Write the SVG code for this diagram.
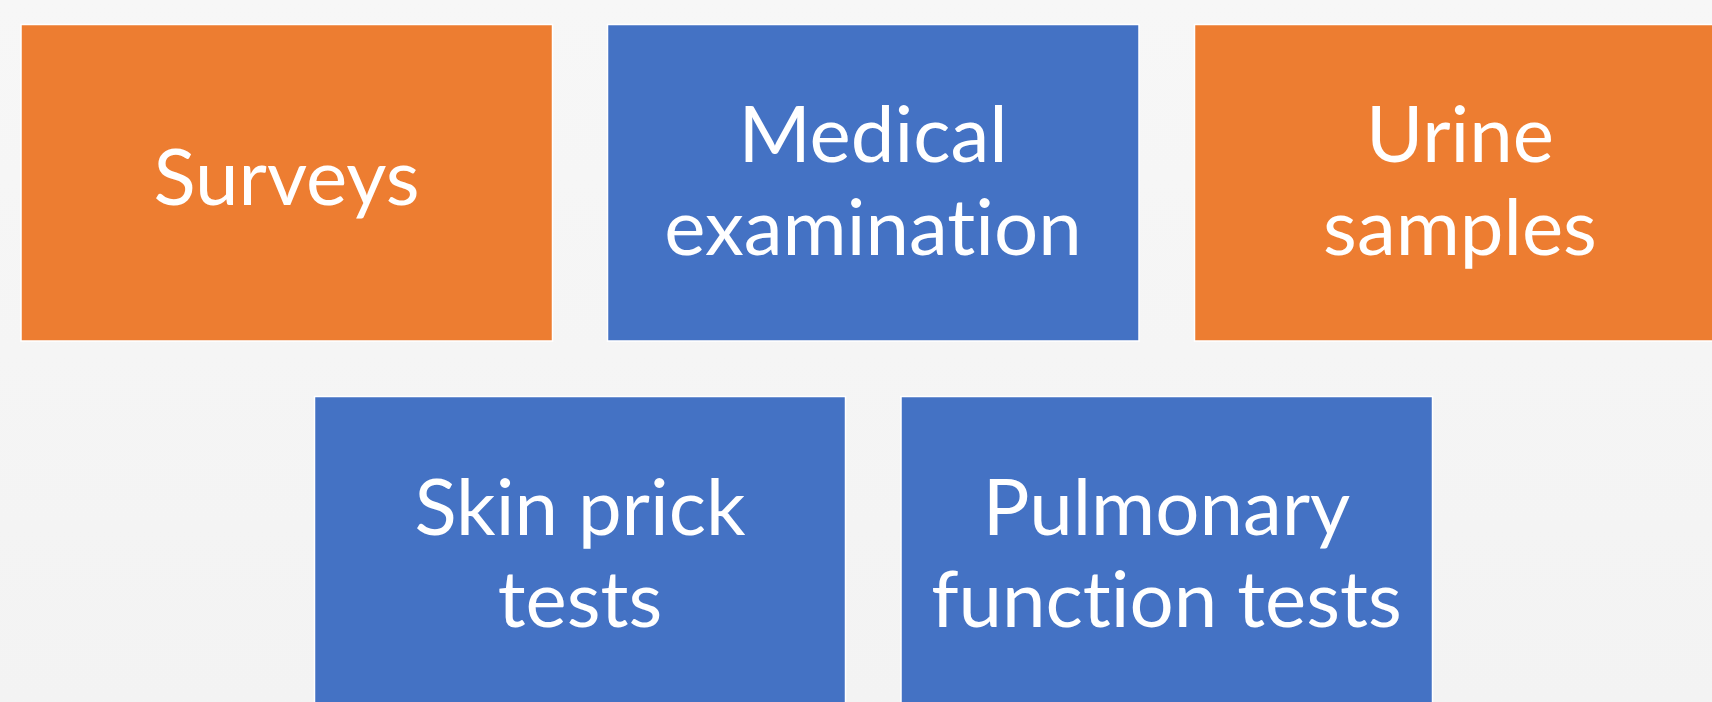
<svg xmlns="http://www.w3.org/2000/svg" width="1712" height="702" viewBox="0 0 1712 702">
  <defs>
    <linearGradient id="bg" x1="0" y1="0" x2="0" y2="1">
      <stop offset="0" stop-color="#F7F7F7"/>
      <stop offset="1" stop-color="#F3F3F3"/>
    </linearGradient>
  </defs>
  <style>
    .box { stroke: #FFFFFF; stroke-width: 1.5; }
    .orange { fill: #ED7D31; }
    .blue { fill: #4472C4; }
    .label { fill: #FFFFFF; font-family: Lato, "Open Sans", "Liberation Sans", sans-serif; font-size: 78px; text-anchor: middle; font-variant-ligatures: none; }
  </style>
  <rect x="0" y="0" width="1712" height="702" fill="url(#bg)"/>

  <g id="surveys">
    <rect class="box orange" x="21" y="24.5" width="531.5" height="316.5"/>
    <text class="label" x="286.5" y="205">Surveys</text>
  </g>

  <g id="medical-examination">
    <rect class="box blue" x="607.5" y="24.5" width="531.5" height="316.5"/>
    <text class="label" x="873" y="162">Medical</text>
    <text class="label" x="873" y="255">examination</text>
  </g>

  <g id="urine-samples">
    <rect class="box orange" x="1194.5" y="24.5" width="531.5" height="316.5"/>
    <text class="label" x="1460" y="162">Urine</text>
    <text class="label" x="1460" y="255">samples</text>
  </g>

  <g id="skin-prick-tests">
    <rect class="box blue" x="314.5" y="396.5" width="531" height="320"/>
    <text class="label" x="580" y="535">Skin prick</text>
    <text class="label" x="580" y="627">tests</text>
  </g>

  <g id="pulmonary-function-tests">
    <rect class="box blue" x="901" y="396.5" width="531.5" height="320"/>
    <text class="label" x="1166.5" y="535">Pulmonary</text>
    <text class="label" x="1166.5" y="627">function tests</text>
  </g>

  <g id="connectors"/>
</svg>
